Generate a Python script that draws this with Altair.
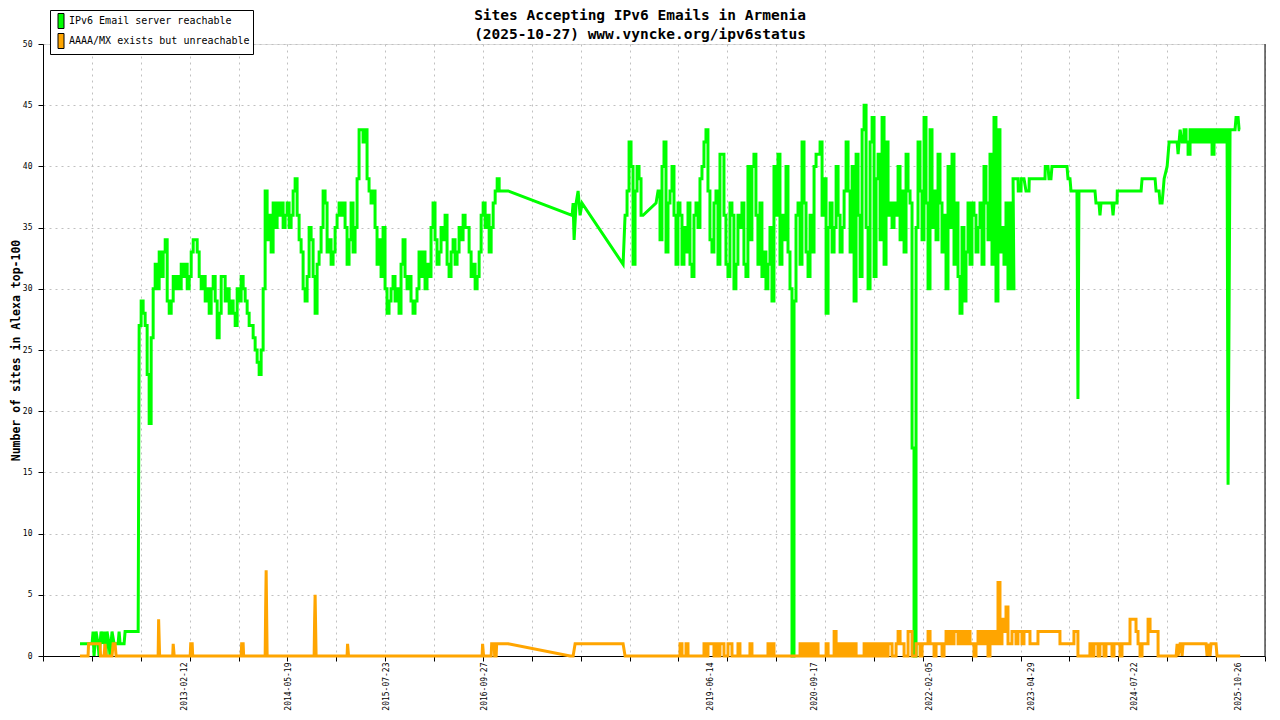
import altair as alt
import pandas as pd

MONO = "DejaVu Sans Mono"

SERIES = ["IPv6 Email server reachable", "AAAA/MX exists but unreachable"]
COLORS = ["#00ff00", "#ffa500"]

TICK_LABELS = ["2013-02-12", "2014-05-19", "2015-07-23", "2016-09-27", "2019-06-14",
               "2020-09-17", "2022-02-05", "2023-04-29", "2024-07-22", "2025-10-26"]
X_RANGE = [2011.417, 2026.130]   # decimal years at both ends of the x axis
Y_TICKS = list(range(0, 51, 5))

STEP = 0.02408  # years between two samples of the dense blocks

# --- IPv6 Email server reachable (decimal year, sites) ---
green_2011 = [
    (2011.863, 1), (2012.008, 1), (2012.020, 2), (2012.032, 0), (2012.056, 2),
    (2012.080, 1), (2012.092, 0), (2012.116, 2), (2012.140, 1), (2012.152, 2),
    (2012.176, 0), (2012.188, 2), (2012.212, 1), (2012.224, 0), (2012.248, 2),
    (2012.273, 1), (2012.321, 1), (2012.333, 2), (2012.345, 1), (2012.393, 1),
    (2012.405, 2), (2012.562, 2),
]
green_2012_start = 2012.574
green_2012 = [
    27, 29, 28, 27, 23, 19, 26, 30, 32, 30,
    33, 31, 33, 34, 29, 28, 29, 31, 30, 31,
    30, 32, 31, 32, 30, 31, 33, 34, 34, 33,
    31, 30, 31, 29, 30, 28, 30, 31, 29, 26,
    28, 31, 31, 29, 30, 28, 29, 28, 27, 30,
    29, 31, 30, 29, 28, 27, 27, 26, 25, 24,
    23, 25, 30, 38, 34, 36, 33, 37, 35, 37,
    36, 37, 35, 36, 37, 35, 36, 38, 39, 36,
    34, 33, 30, 29, 31, 35, 34, 31, 28, 32,
    33, 35, 38, 37, 33, 34, 32, 33, 35, 36,
    37, 36, 37, 35, 32, 34, 37, 33, 35, 39,
    43, 43, 42, 43, 39, 38, 37, 38, 35, 32,
    34, 31, 35, 30, 28, 29, 30, 31, 29, 30,
    28, 32, 34, 31, 30, 31, 29, 28, 29, 30,
    33, 31, 33, 30, 32, 31, 35, 37, 34, 32,
    33, 35, 34, 36, 32, 31, 33, 34, 32, 33,
    35, 34, 36, 35, 35, 33, 31, 32, 30, 31,
    33, 36, 37, 35, 36, 33, 35, 37, 38, 39,
]
green_2017 = [
    (2016.908, 38), (2017.016, 38), (2017.787, 36), (2017.799, 37), (2017.811, 34),
    (2017.835, 37), (2017.859, 38), (2017.883, 36), (2017.907, 37), (2018.401, 32),
]
green_2018_start = 2018.425
green_2018 = [36, 38, 42, 40, 32, 38, 40, 39, 36]
green_2018_mid = [(2018.798, 37)]
green_2019_start = 2018.822
green_2019 = [
    38, 34, 40, 42, 33, 37, 38, 40, 36, 32,
    37, 36, 32, 35, 33, 37, 32, 31, 36, 37,
    35, 39, 40, 42, 43, 38, 34, 33, 37, 38,
    32, 41, 41, 36, 32, 31, 37, 36, 30, 32,
    36, 35, 37, 32, 31, 40, 34, 40, 41, 36,
    32, 37, 31, 33, 30, 32, 35, 29, 40, 36,
    41, 32, 36, 34, 40, 33, 30, 0, 29, 36,
    37, 32, 42, 37, 33, 31, 36, 33, 40, 41,
    41, 42, 36, 39, 28, 35, 37, 33, 35, 40,
    36, 33, 35, 38, 42, 38, 33, 40, 29, 41,
    36, 31, 43, 45, 35, 30, 42, 44, 31, 39,
    41, 34, 44, 32, 42, 36, 37, 35, 37, 36,
    40, 34, 38, 33, 41, 38, 37, 17, 0, 35,
    42, 38, 34, 44, 37, 30, 43, 35, 38, 34,
    41, 37, 33, 36, 30, 40, 35, 41, 32, 37,
    31, 28, 35, 29, 33, 37, 32, 37, 36, 33,
    35, 37, 32, 40, 37, 34, 41, 32, 44, 29,
    43, 33, 35, 32, 37, 30, 37, 30,
]
green_2023 = [
    (2023.097, 39), (2023.157, 39), (2023.160, 38), (2023.193, 38), (2023.196, 39),
    (2023.229, 39), (2023.253, 38), (2023.289, 38), (2023.292, 39), (2023.482, 39),
    (2023.485, 40), (2023.518, 40), (2023.530, 39), (2023.554, 39), (2023.566, 40),
    (2023.747, 40), (2023.759, 39), (2023.783, 39), (2023.795, 38), (2023.867, 38),
    (2023.879, 21), (2023.891, 38), (2024.084, 38), (2024.096, 37), (2024.132, 37),
    (2024.144, 36), (2024.156, 37), (2024.288, 37), (2024.301, 36), (2024.313, 37),
    (2024.349, 37), (2024.352, 38), (2024.638, 38), (2024.650, 39), (2024.806, 39),
    (2024.818, 38), (2024.854, 38), (2024.866, 37), (2024.890, 37), (2024.903, 38),
    (2024.915, 39), (2024.951, 40), (2024.963, 41), (2024.975, 42), (2025.071, 42),
    (2025.083, 41), (2025.095, 42), (2025.107, 43),
]
green_2025_start = 2025.131
green_2025 = [42, 43, 42, 41, 43, 42, 43, 42, 43, 42, 43, 42,
              43, 42, 43, 41, 43, 42, 43, 42, 43, 42, 43]
green_2025_end = [
    (2025.673, 42), (2025.685, 14), (2025.697, 28), (2025.709, 43), (2025.769, 43),
    (2025.781, 44), (2025.806, 44), (2025.818, 43), (2025.830, 43),
]

# --- AAAA/MX exists but unreachable ---
orange_2011 = [
    (2011.863, 0), (2011.960, 0), (2011.966, 1), (2012.104, 1), (2012.110, 0),
    (2012.152, 0), (2012.164, 1), (2012.176, 0), (2012.248, 0), (2012.261, 1),
    (2012.285, 1), (2012.297, 0), (2012.802, 0), (2012.808, 3), (2012.820, 0),
    (2012.977, 0), (2012.983, 1), (2012.995, 0), (2013.188, 0), (2013.194, 1),
    (2013.212, 1), (2013.218, 0), (2013.802, 0), (2013.808, 1), (2013.826, 1),
    (2013.832, 0), (2014.091, 0), (2014.097, 4), (2014.103, 7), (2014.115, 0),
    (2014.681, 0), (2014.687, 3), (2014.693, 5), (2014.705, 0), (2015.078, 0),
    (2015.084, 1), (2015.096, 0), (2016.703, 0), (2016.709, 1), (2016.721, 0),
    (2016.812, 0), (2016.818, 1), (2016.848, 1), (2016.854, 0), (2016.872, 0),
    (2016.878, 1), (2017.016, 1), (2017.763, 0), (2017.799, 0), (2017.823, 1),
    (2018.401, 1), (2018.425, 0),
]
orange_2019_start = 2019.039
orange_2019 = [
    0, 0, 1, 0, 0, 1, 0, 0, 0, 0,
    0, 0, 0, 0, 1, 0, 1, 1, 1, 0,
    1, 0, 1, 1, 0, 0, 1, 1, 0, 0,
    0, 1, 0, 0, 0, 0, 0, 1, 0, 0,
    0, 0, 0, 0, 0, 0, 1, 0, 1, 0,
    0, 0, 0, 0, 0, 0, 0, 0, 0, 0,
    0, 0, 1, 0, 1, 0, 1, 0, 1, 0,
    1, 0, 0, 0, 0, 1, 0, 0, 0, 2,
    0, 1, 0, 1, 0, 1, 0, 1, 0, 1,
    0, 0, 0, 0, 1, 0, 1, 0, 1, 0,
    1, 0, 1, 0, 1, 0, 1,
    1, 0, 0, 1, 2, 1, 1, 0, 0, 2,
    2, 0, 0, 1, 1, 0, 1, 1, 1, 2,
    1, 1, 0, 1, 1, 1, 0, 1, 2, 1,
    2, 1, 2, 2, 1, 2, 1, 2, 1, 2,
    1, 1, 0, 1, 2, 1, 2, 1, 2, 0,
    2, 1, 2, 1, 6, 1, 3, 2, 4, 1,
    1, 2, 2, 1, 2, 2, 1, 2, 2, 2,
    1, 1, 1, 1, 2, 2, 2, 2, 2, 2,
    2, 2, 2, 2, 2, 1, 1, 1, 1, 1,
    1, 1, 2, 2, 0, 0, 0, 0, 0, 0,
    1, 0, 1, 1, 0, 1, 1, 0, 1, 1,
    1, 0, 1, 1, 1, 0, 1, 1, 1, 1,
    3, 3, 3, 2, 1, 0, 1, 1, 1, 3,
    2, 2, 2, 2, 0, 0, 0, 0, 0, 0,
    0,
]
orange_2025 = [
    (2025.059, 0), (2025.071, 1), (2025.083, 0), (2025.107, 1), (2025.119, 1),
    (2025.131, 0), (2025.143, 1), (2025.420, 1), (2025.432, 0), (2025.444, 1),
    (2025.468, 0), (2025.480, 1), (2025.540, 1), (2025.552, 0), (2025.830, 0),
]


def block(start, values):
    # each sample holds its value until the next one (daily counts drawn as steps)
    pts = []
    for i, v in enumerate(values):
        t = start + i * STEP
        pts.append((t, v))
        pts.append((t + STEP * 0.98, v))
    return pts


def year_ms(y):
    yr = int(y)
    a = pd.Timestamp(yr, 1, 1)
    b = pd.Timestamp(yr + 1, 1, 1)
    return int((a + (b - a) * (y - yr)).value // 10**6)


green = (green_2011 + block(green_2012_start, green_2012) + green_2017
         + block(green_2018_start, green_2018) + green_2018_mid
         + block(green_2019_start, green_2019) + green_2023
         + block(green_2025_start, green_2025) + green_2025_end)
orange = orange_2011 + block(orange_2019_start, orange_2019) + orange_2025

rows = []
for name, pts in zip(SERIES, [green, orange]):
    for k, (y, v) in enumerate(pts):
        rows.append({"t": year_ms(y), "v": v, "series": name, "k": k})
df = pd.DataFrame(rows)

x0, x1 = year_ms(X_RANGE[0]), year_ms(X_RANGE[1])
grid_ms = [x0 + i * (x1 - x0) / 25 for i in range(26)]
label_ms = [int(pd.Timestamp(s).value // 10**6) for s in TICK_LABELS]

x_scale = alt.Scale(type="utc", domain=[x0, x1])
y_scale = alt.Scale(domain=[0, 50], nice=False)
color_scale = alt.Scale(domain=SERIES, range=COLORS)

label_axis = alt.Axis(values=label_ms, format="%Y-%m-%d", orient="bottom",
                      labelAngle=270, labelAlign="right", labelBaseline="middle",
                      labelFont=MONO, labelFontSize=8, labelColor="black",
                      labelPadding=6, labelOverlap=False, labelFlush=False,
                      ticks=False, tickSize=0, domain=False, grid=False, title=None)
grid_axis = alt.Axis(values=grid_ms, orient="bottom", labels=False,
                     ticks=True, tickSize=5, tickColor="black",
                     domain=True, domainColor="black",
                     grid=True, gridColor="#c0c0c0", gridDash=[2, 4], title=None)
y_axis = alt.Axis(values=Y_TICKS, title="Number of sites in Alexa top-100",
                  titleFont=MONO, titleFontSize=11.5, titleFontWeight="bold",
                  titleColor="black", titlePadding=1,
                  labelFont=MONO, labelFontSize=8, labelColor="black", labelPadding=6,
                  tickSize=5, tickColor="black", domainColor="black",
                  grid=True, gridColor="#c0c0c0", gridDash=[2, 4])

BAR = "M-0.4,-1H0.4V1H-0.4Z"

green_line = alt.Chart(df[df.series == SERIES[0]]).mark_line(strokeWidth=3).encode(
    x=alt.X("t:T", scale=x_scale, axis=label_axis),
    y=alt.Y("v:Q", scale=y_scale, axis=y_axis),
    color=alt.Color("series:N", scale=color_scale, legend=None),
    order="k:Q",
)
orange_line = alt.Chart(df[df.series == SERIES[1]]).mark_line(strokeWidth=3).encode(
    x=alt.X("t:T", scale=x_scale, axis=grid_axis),
    y=alt.Y("v:Q", scale=y_scale, axis=y_axis),
    color=alt.Color("series:N", scale=color_scale, legend=None),
    order="k:Q",
)
legend_layer = alt.Chart(pd.DataFrame({"series": SERIES})).mark_point(
    filled=True, opacity=0, shape=BAR, stroke="black", strokeWidth=1
).encode(
    color=alt.Color("series:N", scale=color_scale, legend=alt.Legend(
        title=None, orient="none", legendX=7, legendY=-34, direction="vertical",
        fillColor="white", strokeColor="black", padding=3,
        symbolType=BAR, symbolSize=225, symbolStrokeColor="black",
        symbolStrokeWidth=1, symbolOpacity=1,
        labelFont=MONO, labelFontSize=10, labelColor="black", labelLimit=0,
        labelOffset=0, rowPadding=0)),
)
right_edge = alt.Chart().mark_rule(color="black", strokeWidth=1).encode(
    x=alt.value(1222), y=alt.value(0), y2=alt.value(612)
)

chart = alt.layer(green_line, orange_line, legend_layer, right_edge).resolve_axis(
    x="independent"
).resolve_legend(color="independent").properties(
    width=1222, height=612,
    autosize=alt.AutoSizeParams(type="none"),
    padding={"left": 35, "top": 36, "right": 5, "bottom": 56},
    title=alt.TitleParams(
        ["Sites Accepting IPv6 Emails in Armenia", "(2025-10-27) www.vyncke.org/ipv6status"],
        font=MONO, fontSize=14.5, fontWeight="bold", color="black",
        anchor="middle", dx=-14, dy=37, offset=4, lineHeight=19),
).configure_view(strokeWidth=0).configure(background="white")

chart.save("out.html", embed_options={"renderer": "svg", "actions": False})
